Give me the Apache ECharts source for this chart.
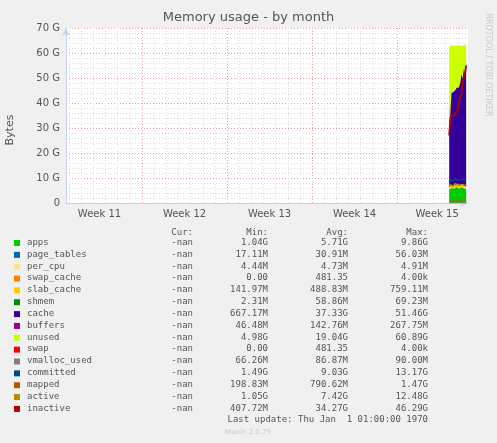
<!DOCTYPE html>
<html>
<head>
<meta charset="utf-8">
<script src="https://cdn.jsdelivr.net/npm/echarts@6/dist/echarts.min.js"></script>
<style>
  html, body { margin: 0; padding: 0; background: #f0f0f0; }
  #chart { width: 497px; height: 443px; }
</style>
</head>
<body>
<div id="chart"></div>
<script>
// x in days; week boundaries at 7, 14, 21, 28
const DAY = 86400000;
const xMin = 0.74, xMax = 33.84;
const weekLabels = ['Week 11', 'Week 12', 'Week 13', 'Week 14', 'Week 15'];
const weekLabelPos = [3.5, 10.5, 17.5, 24.5, 31.3];
const weekBounds = [7, 14, 21, 28];

const xs = [32.29, 32.39, 32.49, 32.59, 32.69, 32.79, 32.89, 32.99, 33.09, 33.19, 33.29, 33.39, 33.49, 33.59, 33.69];
// stacked (GB)
const apps        = [5.5, 6.2, 6.0, 5.6, 5.8, 6.3, 6.5, 6.1, 5.8, 5.9, 6.4, 6.2, 5.9, 6.0, 5.7];
const page_tables = [0.05, 0.05, 0.05, 0.05, 0.05, 0.05, 0.05, 0.05, 0.05, 0.05, 0.05, 0.05, 0.05, 0.05, 0.05];
const per_cpu     = [0.005, 0.005, 0.005, 0.005, 0.005, 0.005, 0.005, 0.005, 0.005, 0.005, 0.005, 0.005, 0.005, 0.005, 0.005];
const swap_cache  = [0, 0, 0, 0, 0, 0, 0, 0, 0, 0, 0, 0, 0, 0, 0];
const slab_cache  = [0.6, 0.8, 1.2, 1.5, 1.0, 0.7, 1.3, 1.6, 1.1, 0.8, 1.2, 1.5, 1.0, 0.8, 0.7];
const shmem       = [0.06, 0.06, 0.06, 0.06, 0.06, 0.06, 0.06, 0.06, 0.06, 0.06, 0.06, 0.06, 0.06, 0.06, 0.06];
const cache       = [22, 37, 37, 37, 38, 38, 38, 39, 39, 41, 44, 42, 47, 45, 50];
const buffers     = [0.2, 0.2, 0.2, 0.2, 0.2, 0.2, 0.2, 0.2, 0.2, 0.2, 0.2, 0.2, 0.2, 0.2, 0.2];
const unused      = [34, 18.6, 18.5, 18.6, 17.8, 17.7, 16.9, 16, 16.8, 15, 11, 13, 8.8, 10.9, 6.3];
const swap        = [0, 0, 0, 0, 0, 0, 0, 0, 0, 0, 0, 0, 0, 0, 0];
// lines (GB)
const vmalloc_used = [0.09, 0.09, 0.09, 0.09, 0.09, 0.09, 0.09, 0.09, 0.09, 0.09, 0.09, 0.09, 0.09, 0.09, 0.09];
const committed   = [8.5, 9.5, 9.0, 8.6, 9.2, 9.8, 9.6, 9.0, 8.8, 9.3, 9.9, 9.4, 8.9, 9.2, 9.0];
const mapped      = [0.8, 0.8, 0.8, 0.8, 0.8, 0.8, 0.8, 0.8, 0.8, 0.8, 0.8, 0.8, 0.8, 0.8, 0.8];
const active      = [6.5, 7.4, 7.0, 6.6, 7.2, 7.8, 7.5, 7.0, 6.8, 7.3, 7.9, 7.4, 7.0, 7.2, 6.9];
const inactive    = [27, 34, 35, 35, 35, 36, 36, 37, 40, 40, 44, 44, 50, 52, 55];

const names = ['apps', 'page_tables', 'per_cpu', 'swap_cache', 'slab_cache', 'shmem', 'cache', 'buffers',
  'unused', 'swap', 'vmalloc_used', 'committed', 'mapped', 'active', 'inactive'];
const colors = ['#00cc00', '#0066b3', '#ffe680', '#ff8000', '#ffcc00', '#008f00', '#330099', '#990099',
  '#ccff00', '#ff0000', '#808080', '#004d80', '#b35900', '#b38f00', '#b30000'];
const curCol = ['-nan', '-nan', '-nan', '-nan', '-nan', '-nan', '-nan', '-nan', '-nan', '-nan', '-nan', '-nan', '-nan', '-nan', '-nan'];
const minCol = ['1.04G', '17.11M', '4.44M', '0.00', '141.97M', '2.31M', '667.17M', '46.48M', '4.98G', '0.00', '66.26M', '1.49G', '198.83M', '1.05G', '407.72M'];
const avgCol = ['5.71G', '30.91M', '4.73M', '481.35', '488.83M', '58.86M', '37.33G', '142.76M', '19.04G', '481.35', '86.87M', '9.03G', '790.62M', '7.42G', '34.27G'];
const maxCol = ['9.86G', '56.03M', '4.91M', '4.00k', '759.11M', '69.23M', '51.46G', '267.75M', '60.89G', '4.00k', '90.00M', '13.17G', '1.47G', '12.48G', '46.29G'];

const stacked = [apps, page_tables, per_cpu, swap_cache, slab_cache, shmem, cache, buffers, unused, swap];
const lines = [vmalloc_used, committed, mapped, active, inactive];

const pts = arr => xs.map((x, i) => [x * DAY, arr[i]]);

const series = [];
stacked.forEach((arr, i) => {
  series.push({
    name: names[i], type: 'line', stack: 'mem', data: pts(arr), symbol: 'none', z: 4,
    lineStyle: { width: 0 }, areaStyle: { color: colors[i], opacity: 1 }, itemStyle: { color: colors[i] }
  });
});
lines.forEach((arr, j) => {
  const i = stacked.length + j;
  series.push({
    name: names[i], type: 'line', data: pts(arr), symbol: 'none',
    lineStyle: { width: names[i] === 'inactive' ? 1.8 : 1.2, color: colors[i] }, itemStyle: { color: colors[i] }, z: 6
  });
});

// grid lines
const gridLines = [];
for (let d = 1; d <= 33; d++) {
  gridLines.push({ xAxis: d * DAY, lineStyle: { color: weekBounds.includes(d) ? '#e8a0a0' : '#dcdcdc', type: [1, 2], width: 1 } });
}
series.push({
  type: 'line', data: [], silent: true, z: 0,
  markLine: { symbol: 'none', silent: true, z: 0, label: { show: false }, data: gridLines }
});

const chart = echarts.init(document.getElementById('chart'));
const mono = 'DejaVu Sans Mono';
const graphic = [
  { type: 'text', left: 'center', top: 11, style: { text: 'Memory usage - by month', font: '13px DejaVu Sans', fill: '#555' } },
  { type: 'text', x: 10, y: 130, rotation: Math.PI / 2, style: { text: 'Bytes', font: '11px DejaVu Sans', fill: '#555', align: 'center', verticalAlign: 'middle' } },
  { type: 'text', x: 488, y: 65, rotation: -Math.PI / 2, style: { text: 'RRDTOOL / TOBI OETIKER', font: '8px DejaVu Sans', fill: '#c8c8c8', align: 'center', verticalAlign: 'middle' } },
  { type: 'text', x: 193, y: 228, style: { text: 'Cur:', font: '9px ' + mono, fill: '#555', align: 'right' } },
  { type: 'text', x: 268, y: 228, style: { text: 'Min:', font: '9px ' + mono, fill: '#555', align: 'right' } },
  { type: 'text', x: 348, y: 228, style: { text: 'Avg:', font: '9px ' + mono, fill: '#555', align: 'right' } },
  { type: 'text', x: 428, y: 228, style: { text: 'Max:', font: '9px ' + mono, fill: '#555', align: 'right' } },
  { type: 'text', x: 428, y: 415, style: { text: 'Last update: Thu Jan  1 01:00:00 1970', font: '9px ' + mono, fill: '#555', align: 'right' } },
  { type: 'text', x: 248, y: 429, style: { text: 'Munin 2.0.75', font: '7px DejaVu Sans', fill: '#c8c8c8', align: 'center' } }
];
names.forEach((n, i) => {
  const y = 240 + i * 11.85;
  graphic.push({ type: 'rect', shape: { x: 14, y: y, width: 6, height: 6 }, style: { fill: colors[i] } });
  graphic.push({ type: 'text', x: 27, y: y - 2, style: { text: n, font: '9px ' + mono, fill: '#555' } });
  graphic.push({ type: 'text', x: 193, y: y - 2, style: { text: curCol[i], font: '9px ' + mono, fill: '#555', align: 'right' } });
  graphic.push({ type: 'text', x: 268, y: y - 2, style: { text: minCol[i], font: '9px ' + mono, fill: '#555', align: 'right' } });
  graphic.push({ type: 'text', x: 348, y: y - 2, style: { text: avgCol[i], font: '9px ' + mono, fill: '#555', align: 'right' } });
  graphic.push({ type: 'text', x: 428, y: y - 2, style: { text: maxCol[i], font: '9px ' + mono, fill: '#555', align: 'right' } });
});

chart.setOption({
  backgroundColor: '#f0f0f0',
  animation: false,
  grid: { left: 66, right: 29, top: 28, bottom: 240, show: true, backgroundColor: '#ffffff', borderWidth: 0 },
  xAxis: [{
    type: 'time', min: xMin * DAY, max: xMax * DAY,
    axisLine: { show: true, onZero: false, lineStyle: { color: '#c8d0f0' }, symbol: ['none', 'arrow'], symbolSize: [6, 8] },
    axisTick: { show: false },
    splitLine: { show: false },
    axisLabel: { show: false }
  }, {
    type: 'value', min: xMin, max: xMax, position: 'bottom',
    axisLine: { show: false }, axisTick: { show: false }, splitLine: { show: false },
    axisLabel: {
      customValues: weekLabelPos, color: '#555', fontFamily: 'DejaVu Sans', fontSize: 10, margin: 6,
      formatter: v => weekLabels[weekLabelPos.indexOf(v)]
    }
  }],
  yAxis: {
    type: 'value', min: 0, max: 70, interval: 10,
    axisLine: { show: true, lineStyle: { color: '#c8d0f0' }, symbol: ['none', 'arrow'], symbolSize: [6, 8] },
    axisTick: { show: false },
    axisLabel: { color: '#555', fontFamily: 'DejaVu Sans', fontSize: 10, margin: 6, formatter: v => v === 0 ? '0' : v + ' G' },
    splitLine: { lineStyle: { color: '#e8a0a0', type: [1, 2] } },
    minorTick: { show: false, splitNumber: 5 },
    minorSplitLine: { show: true, lineStyle: { color: '#dcdcdc', type: [1, 2] } }
  },
  series: series,
  graphic: graphic
});
</script>
</body>
</html>
